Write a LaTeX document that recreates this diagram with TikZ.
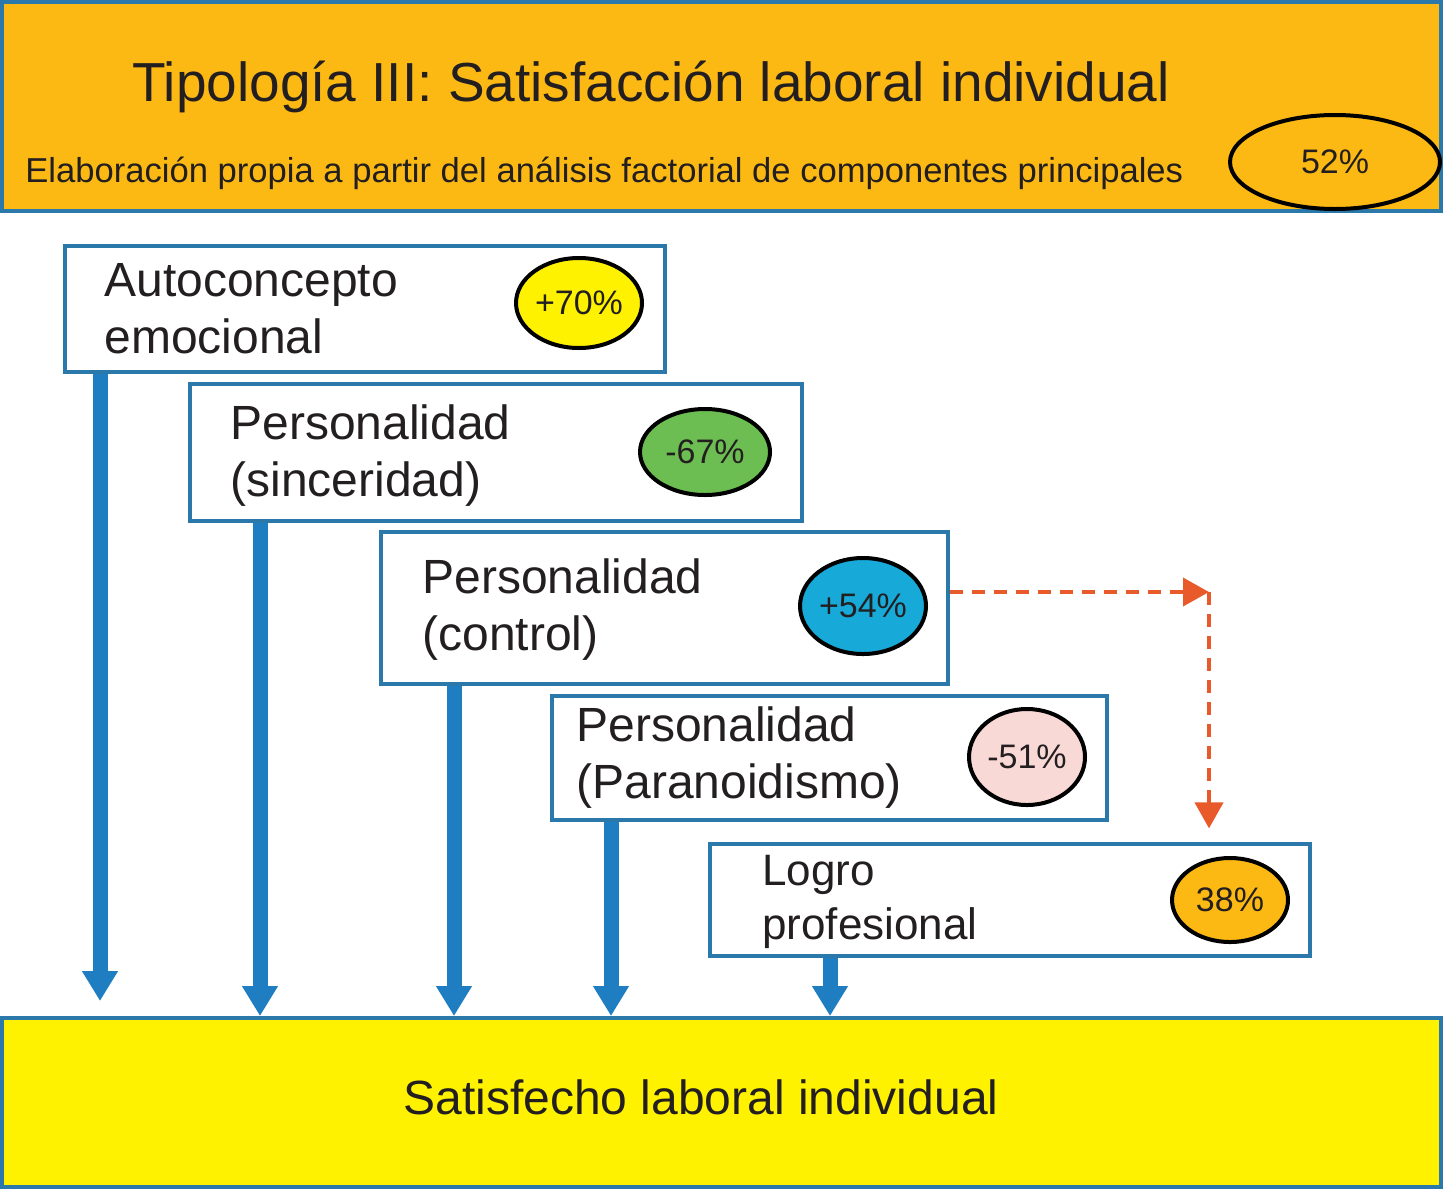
\documentclass[tikz,border=0pt]{standalone}
\usepackage{fontspec}
\setmainfont{Liberation Sans}
\usetikzlibrary{shapes.geometric,arrows.meta}
\definecolor{orangef}{HTML}{FDB913}
\definecolor{yellowf}{HTML}{FFF200}
\definecolor{greenf}{HTML}{6DBE52}
\definecolor{cyanf}{HTML}{17AAD9}
\definecolor{pinkf}{HTML}{F8D9D6}
\definecolor{borderb}{HTML}{2B78AB}
\definecolor{arrowb}{HTML}{1F7EC2}
\definecolor{dashor}{HTML}{E95A2B}
\definecolor{txt}{HTML}{231F20}
\tikzset{
  box/.style={draw=borderb, line width=1.6pt, fill=white, inner sep=0pt},
  bigbox/.style={draw=borderb, line width=2pt, inner sep=0pt},
  lbl/.style={text=txt, font=\fontsize{24}{28.5}\selectfont, align=left, inner sep=0pt, anchor=west},
  pct/.style={ellipse, draw=black, line width=2pt, inner sep=0pt, text=txt, font=\fontsize{17}{20}\selectfont},
  bluearrow/.style={draw=arrowb, line width=7.5pt, -{Triangle[width=17pt,length=15pt]}},
  dasharrow/.style={draw=dashor, line width=2pt, dash pattern=on 6.5pt off 4.5pt, -{Triangle[width=14pt,length=13pt]}}
}
\begin{document}
\begin{tikzpicture}[x=0.5pt,y=-0.5pt]
\useasboundingbox (0,0) rectangle (1443,1189);
% top header
\node[bigbox, fill=orangef, minimum width=719.5pt, minimum height=104.5pt] (top) at (721.5,106.5) {};
\node[text=txt, font=\fontsize{27.5}{32}\selectfont, anchor=base, inner sep=0pt] (title) at (651,101) {Tipología III: Satisfacción laboral individual};
\node[text=txt, font=\fontsize{17.3}{20}\selectfont, anchor=base west, inner sep=0pt] (sub) at (25,182) {Elaboración propia a partir del análisis factorial de componentes principales};
\node[pct, fill=orangef, minimum width=105pt, minimum height=47pt] (e0) at (1335,162) {52\%};
% bottom box
\node[bigbox, fill=yellowf, minimum width=719.5pt, minimum height=84.5pt] (bot) at (721.5,1102.5) {};
\node[text=txt, font=\fontsize{24}{28}\selectfont, anchor=base, inner sep=0pt] (bott) at (701,1114) {Satisfecho laboral individual};
% boxes
\node[box, minimum width=300pt, minimum height=63pt] (b1) at (365,309) {};
\node[lbl] (t1) at (104,309) {Autoconcepto\\emocional};
\node[pct, fill=yellowf, minimum width=63pt, minimum height=45pt] (e1) at (579,303) {+70\%};

\node[box, minimum width=306pt, minimum height=68.5pt] (b2) at (496,452.5) {};
\node[lbl] (t2) at (230,456) {Personalidad\\(sinceridad)};
\node[pct, fill=greenf, minimum width=65pt, minimum height=43pt] (e2) at (705,452) {-67\%};

\node[box, minimum width=283.5pt, minimum height=76pt] (b3) at (664.5,608) {};
\node[lbl] (t3) at (422,610) {Personalidad\\(control)};
\node[pct, fill=cyanf, minimum width=63pt, minimum height=48pt] (e3) at (863,606) {+54\%};

\node[box, minimum width=277.5pt, minimum height=62pt] (b4) at (829.5,758) {};
\node[lbl] (t4) at (576,758) {Personalidad\\(Paranoidismo)};
\node[pct, fill=pinkf, minimum width=58pt, minimum height=48pt] (e4) at (1027,757) {-51\%};

\node[box, minimum width=300pt, minimum height=56pt] (b5) at (1010,900) {};
\node[lbl, font=\fontsize{22}{27}\selectfont] (t5) at (762,902) {Logro\\profesional};
\node[pct, fill=orangef, minimum width=58pt, minimum height=42pt] (e5) at (1230,900) {38\%};

% blue arrows
\coordinate (end1) at (100,1001);
\draw[bluearrow] (b1.south -| end1) -- (end1);
\draw[bluearrow] (b2.south -| 260,0) -- (bot.north -| 260,0);
\draw[bluearrow] (b3.south -| 454,0) -- (bot.north -| 454,0);
\draw[bluearrow] (b4.south -| 611,0) -- (bot.north -| 611,0);
\draw[bluearrow] (b5.south -| 830,0) -- (bot.north -| 830,0);

% dashed orange
\coordinate (corner) at (1209,592);
\draw[dasharrow] (b3.east |- corner) -- (corner);
\draw[dasharrow, shorten >=7pt] (corner) -- (b5.north -| corner);
\end{tikzpicture}
\end{document}
